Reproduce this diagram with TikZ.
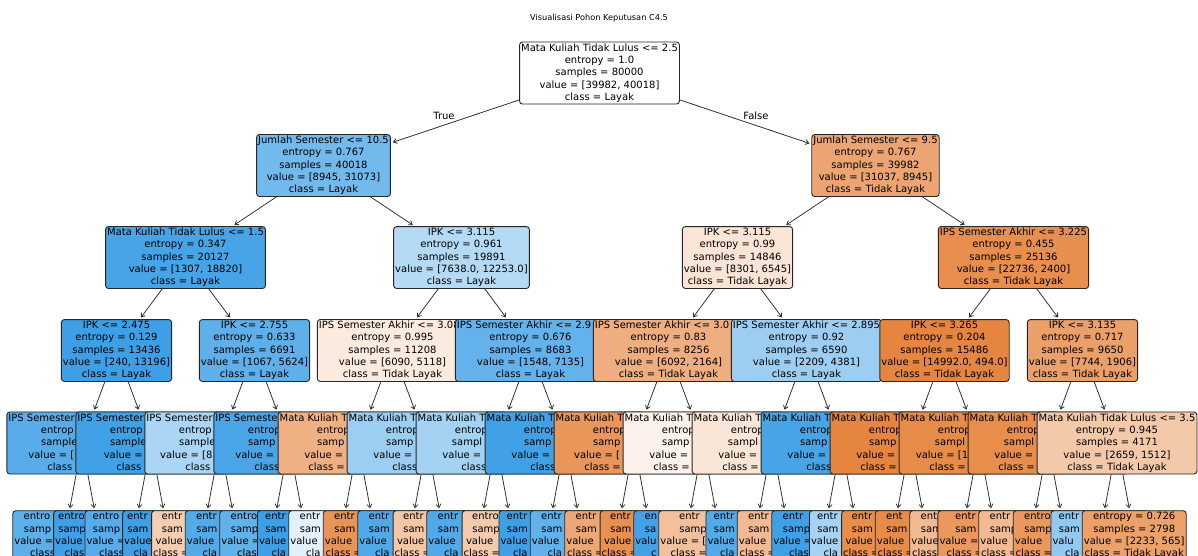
\documentclass[tikz,border=0pt]{standalone}
\usepackage{fontspec}
\setmainfont{DejaVu Sans}
\usetikzlibrary{arrows.meta}
\definecolor{cO}{RGB}{229,129,57}
\definecolor{cB}{RGB}{57,157,229}
\newcommand\myfr[2]{\rlap{#1}\phantom{#2}}
\newcommand\myVF{value = [00, 000]}
\newcommand\myVS{value = [000, 000]}
\newcommand\myVN{value = [000, 0000]}
\newcommand\myVD{value = [000.0, 0000.0]}
\newcommand\myVE{value = [000.0, 000.0]}
\newcommand\myCL{class = Layak}
\newcommand\myCT{class = Tidak Layak}
\newcommand\myIPSf{IPS Semester Akhir <= 0.000}
\newcommand\myMKf{Mata Kuliah Tidak Lulus <= 0.5}
\newcommand\myMK{\myfr{Mata Kuliah T}{\myMKf}}
\newcommand\myleaf[9]{\node[tn,fill=#3] (#1) at (#2,535.5) {\myfr{#4}{entropy = 0.000}\\\myfr{#5}{samples = 0000}\\\myfr{#6}{#7}\\\myfr{#8}{#9}};}
\newcommand\myfour[7]{\node[tn,fill=#3] (#1) at (#2,443) {#4\\\myfr{entrop}{entropy = 0.000}\\#5\\#6\\#7};}
\begin{document}
\begin{tikzpicture}[x=1pt,y=-1pt,
  tn/.style={draw=black!85, line width=0.9pt, rounded corners=3pt, inner xsep=1.6pt, inner ysep=1.6pt, align=center, font=\fontsize{10}{12.3}\selectfont},
  ar/.style={draw=black!80, line width=0.8pt, -{Straight Barb[length=3.5pt,width=5pt]}, shorten >=2pt},
  lbl/.style={font=\fontsize{10}{12}\selectfont, inner sep=0pt}]
\useasboundingbox (0,0) rectangle (1198,555);
\clip (0,0) rectangle (1198,555);
\fill[white] (0,0) rectangle (1198,555);
\node[font=\fontsize{8.2}{10}\selectfont, inner sep=0pt] (title) at (599,18) {Visualisasi Pohon Keputusan C4.5};
% root
\node[tn,fill=white] (root) at (599.5,73) {Mata Kuliah Tidak Lulus <= 2.5\\entropy = 1.0\\samples = 80000\\value = [39982, 40018]\\class = Layak};
% level 1
\node[tn,fill=cB!71.2!white] (r1) at (323.5,165.5) {Jumlah Semester <= 10.5\\entropy = 0.767\\samples = 40018\\value = [8945, 31073]\\class = Layak};
\node[tn,fill=cO!71.2!white] (r2) at (875.5,165.5) {Jumlah Semester <= 9.5\\entropy = 0.767\\samples = 39982\\value = [31037, 8945]\\class = Tidak Layak};
\node[lbl] (lt) at (444,116) {True};
\node[lbl] (lf) at (756,116) {False};
% level 2
\node[tn,fill=cB!93.1!white] (s1) at (185.5,257.5) {Mata Kuliah Tidak Lulus <= 1.5\\entropy = 0.347\\samples = 20127\\value = [1307, 18820]\\class = Layak};
\node[tn,fill=cB!37.7!white] (s2) at (461.5,257.5) {IPK <= 3.115\\entropy = 0.961\\samples = 19891\\value = [7638.0, 12253.0]\\class = Layak};
\node[tn,fill=cO!21.2!white] (s3) at (737.5,257.5) {IPK <= 3.115\\entropy = 0.99\\samples = 14846\\value = [8301, 6545]\\class = Tidak Layak};
\node[tn,fill=cO!89.4!white] (s4) at (1013.5,257.5) {IPS Semester Akhir <= 3.225\\entropy = 0.455\\samples = 25136\\value = [22736, 2400]\\class = Tidak Layak};
% level 3
\node[tn,fill=cB!98.2!white] (t1) at (116.5,350.5) {IPK <= 2.475\\entropy = 0.129\\samples = 13436\\value = [240, 13196]\\class = Layak};
\node[tn,fill=cB!81!white] (t2) at (254.5,350.5) {IPK <= 2.755\\entropy = 0.633\\samples = 6691\\value = [1067, 5624]\\class = Layak};
\node[tn,fill=cO!16!white] (t3) at (392.5,350.5) {\myfr{IPS Semester Akhir <= 3.08}{IPS Semester Akhir <= 3.085}\\entropy = 0.995\\samples = 11208\\value = [6090, 5118]\\class = Tidak Layak};
\node[tn,fill=cB!78.3!white] (t4) at (530.5,350.5) {\myfr{IPS Semester Akhir <= 2.9}{IPS Semester Akhir <= 2.935}\\entropy = 0.676\\samples = 8683\\value = [1548, 7135]\\class = Layak};
\node[tn,fill=cO!64.5!white] (t5) at (668.5,350.5) {\myfr{IPS Semester Akhir <= 3.0}{IPS Semester Akhir <= 3.055}\\entropy = 0.83\\samples = 8256\\value = [6092, 2164]\\class = Tidak Layak};
\node[tn,fill=cB!49.6!white] (t6) at (806.5,350.5) {IPS Semester Akhir <= 2.895\\entropy = 0.92\\samples = 6590\\value = [2209, 4381]\\class = Layak};
\node[tn,fill=cO!96.7!white] (t7) at (944.5,350.5) {IPK <= 3.265\\entropy = 0.204\\samples = 15486\\value = [14992.0, 494.0]\\class = Tidak Layak};
\node[tn,fill=cO!75.4!white] (t8) at (1082.5,350.5) {IPK <= 3.135\\entropy = 0.717\\samples = 9650\\value = [7744, 1906]\\class = Tidak Layak};
% level 4
\myfour{f1}{82}{cB!85!white}{\myfr{IPS Semester}{\myIPSf}}{\myfr{sample}{samples = 0000}}{\myfr{value = [}{value = [0000, 0000]}}{\myfr{class}{\myCL}}
\myfour{f2}{151}{cB!96!white}{\myfr{IPS Semester}{\myIPSf}}{\myfr{sample}{samples = 0000}}{\myfr{value =}{value = [000, 000]}}{\myfr{class}{\myCL}}
\myfour{f3}{220}{cB!43!white}{\myfr{IPS Semester}{\myIPSf}}{\myfr{sample}{samples = 0000}}{\myfr{value = [8}{value = [000.0, 0000.0]}}{\myfr{class}{\myCL}}
\myfour{f4}{289}{cB!92!white}{\myfr{IPS Semeste}{\myIPSf}}{\myfr{samp}{samples = 0000}}{\myfr{value =}{value = [0000, 0000]}}{\myfr{class}{\myCL}}
\myfour{f5}{358}{cO!62!white}{\myMK}{\myfr{samp}{samples = 0000}}{\myfr{value =}{value = [0000, 0000]}}{\myfr{class =}{\myCT}}
\myfour{f6}{427}{cB!50!white}{\myMK}{\myfr{samp}{samples = 0000}}{\myfr{value =}{value = [0000, 0000]}}{\myfr{class}{\myCL}}
\myfour{f7}{496}{cB!46!white}{\myMK}{\myfr{sampl}{samples = 00000}}{\myfr{value =}{value = [0000, 0000]}}{\myfr{class}{\myCL}}
\myfour{f8}{565}{cB!96!white}{\myMK}{\myfr{samp}{samples = 0000}}{\myfr{value =}{value = [0000, 0000]}}{\myfr{class}{\myCL}}
\myfour{f9}{634}{cO!83!white}{\myMK}{\myfr{samp}{samples = 0000}}{\myfr{value = [}{value = [0000.0, 000.0]}}{\myfr{class =}{\myCT}}
\myfour{f10}{703}{cO!10!white}{\myMK}{\myfr{samp}{samples = 0000}}{\myfr{value =}{value = [0000, 0000]}}{\myfr{class =}{\myCT}}
\myfour{f11}{772}{cO!20!white}{\myMK}{\myfr{sampl}{samples = 00000}}{\myfr{value =}{value = [0000, 0000]}}{\myfr{class =}{\myCT}}
\myfour{f12}{841}{cB!93!white}{\myMK}{\myfr{samp}{samples = 0000}}{\myfr{value =}{value = [0000, 0000]}}{\myfr{class}{\myCL}}
\myfour{f13}{910}{cO!97!white}{\myMK}{\myfr{samp}{samples = 0000}}{\myfr{value =}{value = [0000, 0000]}}{\myfr{class =}{\myCT}}
\myfour{f14}{979}{cO!92!white}{\myMK}{\myfr{sampl}{samples = 00000}}{\myfr{value = [1}{value = [00000.0, 000.0]}}{\myfr{class =}{\myCT}}
\myfour{f15}{1048}{cO!90!white}{\myMK}{\myfr{sampl}{samples = 00000}}{\myfr{value =}{value = [0000, 0000]}}{\myfr{class =}{\myCT}}
\node[tn,fill=cO!43.1!white] (f16) at (1117,443) {Mata Kuliah Tidak Lulus <= 3.5\\entropy = 0.945\\samples = 4171\\value = [2659, 1512]\\class = Tidak Layak};
% leaves
\myleaf{l0}{64.75}{cB!82!white}{entro}{samp}{value =}{\myVN}{class}{\myCL}
\myleaf{l1}{99.25}{cB!97!white}{entro}{samp}{value}{\myVF}{clas}{\myCL}
\myleaf{l2}{133.75}{cB!85!white}{entro}{samp}{value =}{\myVS}{class}{\myCL}
\myleaf{l3}{168.25}{cB!97!white}{entr}{sam}{value}{\myVF}{cla}{\myCL}
\myleaf{l4}{202.75}{cO!40!white}{entr}{sam}{value}{\myVS}{class =}{\myCT}
\myleaf{l5}{237.25}{cB!87!white}{entr}{sam}{value}{\myVN}{cla}{\myCL}
\myleaf{l6}{271.75}{cB!80!white}{entro}{samp}{value =}{\myVN}{clas}{\myCL}
\myleaf{l7}{306.25}{cB!98!white}{entr}{sam}{value}{\myVS}{cla}{\myCL}
\myleaf{l8}{340.75}{cB!15!white}{entr}{sam}{value}{\myVN}{cla}{\myCL}
\myleaf{l9}{375.25}{cO!85!white}{entr}{sam}{value}{\myVN}{class =}{\myCT}
\myleaf{l10}{409.75}{cB!88!white}{entr}{sam}{value}{\myVN}{cla}{\myCL}
\myleaf{l11}{444.25}{cO!45!white}{entr}{sam}{value}{\myVS}{class =}{\myCT}
\myleaf{l12}{478.75}{cB!88!white}{entr}{sam}{value}{\myVN}{cla}{\myCL}
\myleaf{l13}{513.25}{cO!42!white}{entro}{samp}{value}{\myVS}{class =}{\myCT}
\myleaf{l14}{547.75}{cB!97!white}{entr}{sam}{value}{\myVS}{cla}{\myCL}
\myleaf{l15}{582.25}{cB!80!white}{entr}{sam}{value}{\myVN}{cla}{\myCL}
\myleaf{l16}{616.75}{cO!70!white}{entr}{sam}{value}{\myVN}{class =}{\myCT}
\myleaf{l17}{651.25}{cO!88!white}{entr}{sam}{value}{\myVS}{class =}{\myCT}
\myleaf{l18}{685.75}{cB!95!white}{en}{sa}{valu}{\myVN}{c}{\myCL}
\myleaf{l19}{720.25}{cO!50!white}{entr}{samp}{value = [}{\myVD}{class =}{\myCT}
\myleaf{l20}{754.75}{cB!87!white}{entr}{sam}{value}{\myVS}{cla}{\myCL}
\myleaf{l21}{789.25}{cO!55!white}{entr}{sam}{value}{\myVN}{class =}{\myCT}
\myleaf{l22}{823.75}{cB!97!white}{entr}{samp}{value =}{\myVN}{clas}{\myCL}
\myleaf{l23}{858.25}{cB!45!white}{entr}{sam}{value}{\myVS}{cla}{\myCL}
\myleaf{l24}{892.75}{cO!90!white}{entr}{sam}{value}{\myVS}{class =}{\myCT}
\myleaf{l25}{927.25}{cO!92!white}{ent}{sam}{value}{\myVN}{class =}{\myCT}
\myleaf{l26}{961.75}{cO!55!white}{ent}{sam}{value}{\myVN}{class}{\myCT}
\myleaf{l27}{996.25}{cO!82!white}{entr}{sam}{value =}{\myVE}{class =}{\myCT}
\myleaf{l28}{1030.75}{cO!55!white}{entr}{samp}{value}{\myVN}{class =}{\myCT}
\myleaf{l29}{1065.25}{cO!82!white}{entro}{samp}{value}{\myVN}{class =}{\myCT}
\myleaf{l30}{1099.75}{cB!55!white}{entr}{sam}{valu}{\myVS}{cla}{\myCL}
\node[tn,fill=cO!74.7!white] (l31) at (1134.25,535.5) {entropy = 0.726\\samples = 2798\\value = [2233, 565]\\class = Tidak Layak};
% connectors
\draw[ar] (root) -- (r1);
\draw[ar] (root) -- (r2);
\draw[ar] (r1) -- (s1);
\draw[ar] (r1) -- (s2);
\draw[ar] (r2) -- (s3);
\draw[ar] (r2) -- (s4);
\foreach \i in {1,...,4} {
  \pgfmathtruncatemacro\kA{2*\i-1}
  \pgfmathtruncatemacro\kB{2*\i}
  \draw[ar] (s\i) -- (t\kA);
  \draw[ar] (s\i) -- (t\kB);
}
\foreach \i in {1,...,8} {
  \pgfmathtruncatemacro\kA{2*\i-1}
  \pgfmathtruncatemacro\kB{2*\i}
  \draw[ar] (t\i) -- (f\kA);
  \draw[ar] (t\i) -- (f\kB);
}
\foreach \i in {1,...,16} {
  \pgfmathtruncatemacro\kA{2*\i-2}
  \pgfmathtruncatemacro\kB{2*\i-1}
  \draw[ar] (f\i) -- (l\kA);
  \draw[ar] (f\i) -- (l\kB);
}
\end{tikzpicture}
\end{document}
